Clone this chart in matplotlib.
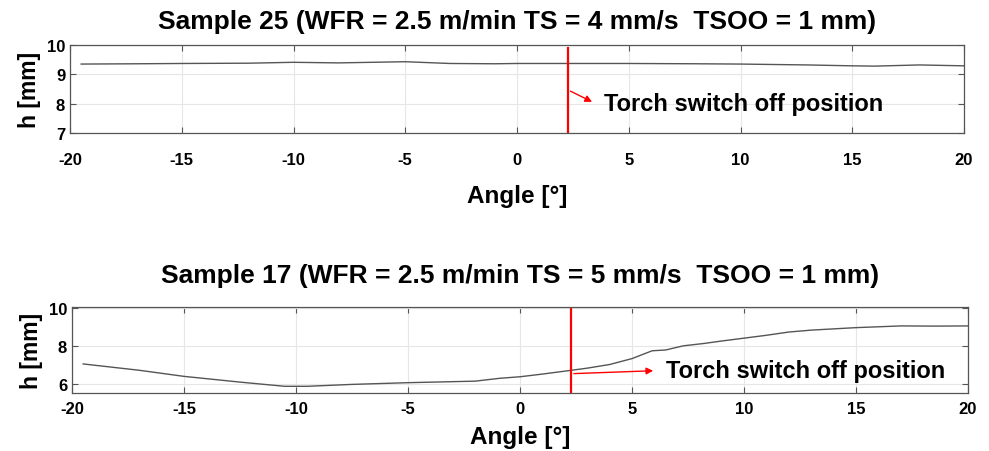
import numpy as np
import matplotlib.pyplot as plt

plt.rcParams['font.family'] = ['Liberation Sans', 'DejaVu Sans']
plt.rcParams['font.weight'] = 'bold'
plt.rcParams['axes.unicode_minus'] = False

# --- sample 25 profile ---
angle_25 = [-19.5, -17, -15, -12, -10, -8, -5, -3, -1, 0, 3, 5, 8, 10, 13, 15, 16, 18, 20]
h_25 = [9.35, 9.36, 9.37, 9.38, 9.41, 9.39, 9.43, 9.37, 9.36, 9.37, 9.37, 9.37, 9.36, 9.35, 9.32, 9.29, 9.28, 9.32, 9.29]

# --- sample 17 profile ---
angle_17 = [-19.5, -17, -15, -12.5, -10.5, -9.5, -7.5, -5, -2, -0.9, 0, 1, 2.3, 3, 4, 5, 5.9,
            6.5, 7.3, 8.2, 9, 10, 11, 12, 13, 15, 17, 18.5, 20]
h_17 = [7.05, 6.72, 6.4, 6.1, 5.88, 5.88, 5.98, 6.07, 6.15, 6.3, 6.38, 6.52, 6.72, 6.83, 7.02, 7.33, 7.74,
        7.78, 8.0, 8.12, 8.25, 8.4, 8.55, 8.72, 8.82, 8.95, 9.04, 9.03, 9.04]

switch_off = 2.28
titles = ['Sample 25 (WFR = 2.5 m/min TS = 4 mm/s  TSOO = 1 mm)',
          'Sample 17 (WFR = 2.5 m/min TS = 5 mm/s  TSOO = 1 mm)']


def style_axes(ax, ylim, yticks):
    ax.set_xlim(-20, 20)
    ax.set_ylim(*ylim)
    ax.set_xticks(np.arange(-20, 21, 5))
    ax.set_yticks(yticks)
    ax.grid(True, color='#e6e6e6', linewidth=0.8)
    ax.tick_params(direction='in', top=True, right=True, length=4, color='#555555',
                   labelsize=12)
    for sp in ax.spines.values():
        sp.set_color('#555555')
        sp.set_linewidth(0.9)
    for lab in ax.get_xticklabels() + ax.get_yticklabels():
        lab.set_fontweight('bold')
    ax.set_axisbelow(True)


fig = plt.figure(figsize=(9.89, 4.52), dpi=100)

# top panel
ax1 = fig.add_axes([70 / 989, 1 - 134 / 452, 894 / 989, 88 / 452])
ax1.plot(angle_25, h_25, color='#555555', linewidth=1)
style_axes(ax1, (7, 10), [7, 8, 9, 10])
ax1.tick_params(axis='x', pad=14)
ax1.axvline(switch_off, ymax=0.97, color='red', linewidth=1.6)
ax1.annotate('', xy=(3.47, 8.02), xytext=(switch_off, 8.47),
             arrowprops=dict(arrowstyle='-|>', color='red', lw=1, mutation_scale=10))
ax1.text(3.9, 8.02, 'Torch switch off position', fontsize=17, fontweight='bold', va='center')
ax1.set_title(titles[0], fontsize=19, fontweight='bold', pad=12)
ax1.set_xlabel('Angle [°]', fontsize=17.5, fontweight='bold', labelpad=12)
ax1.set_ylabel('h [mm]', fontsize=16.5, fontweight='bold', labelpad=4)

# bottom panel
ax2 = fig.add_axes([72 / 989, 1 - 394 / 452, 896 / 989, 86 / 452])
ax2.plot(angle_17, h_17, color='#555555', linewidth=1)
style_axes(ax2, (5.53, 10.03), [6, 8, 10])
ax2.tick_params(axis='x', pad=6)
ax2.axvline(switch_off, color='red', linewidth=1.6)
ax2.annotate('', xy=(6.07, 6.70), xytext=(switch_off, 6.54),
             arrowprops=dict(arrowstyle='-|>', color='red', lw=1, mutation_scale=10))
ax2.text(6.5, 6.7, 'Torch switch off position', fontsize=17, fontweight='bold', va='center')
ax2.set_title(titles[1], fontsize=19, fontweight='bold', pad=18)
ax2.set_xlabel('Angle [°]', fontsize=17.5, fontweight='bold', labelpad=6)
ax2.set_ylabel('h [mm]', fontsize=16.5, fontweight='bold', labelpad=4)

fig.savefig('out.png', dpi=100)
